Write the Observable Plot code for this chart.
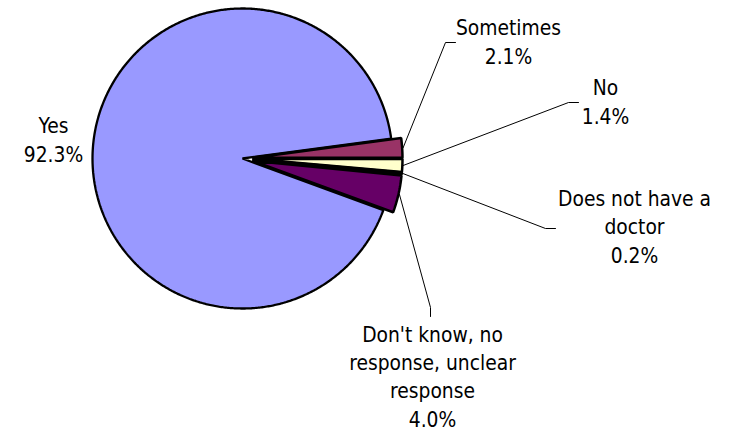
<!DOCTYPE html>
<html><head><meta charset="utf-8">
<script src="https://cdn.jsdelivr.net/npm/d3@7"></script>
<script src="https://cdn.jsdelivr.net/npm/@observablehq/plot@0.6"></script>
<style>html,body{margin:0;padding:0;background:#fff;}</style>
</head><body><div id="chart"></div>
<script>
// ---- data ----
const categories = ["Yes", "Sometimes", "No", "Does not have a doctor", "Don't know, no response, unclear response"];
const values = [92.3, 2.1, 1.4, 0.2, 4.0];
const labelTexts = ["Yes", "Sometimes", "No", "Does not have a\ndoctor", "Don't know, no\nresponse, unclear\nresponse"];
const colors = ["#9999FF", "#993366", "#FFFFCC", "#CCFFFF", "#660066"];

// ---- layout ----
const W = 732, H = 432;
const cx = 242, cy = 158, R = 150, explode = [0, 10, 10, 10, 10];
const startAngle = 110.1; // degrees clockwise from 12 o'clock
const labelPos = [
  {x: 53, y: 161, elbow: null},
  {x: 508, y: 63, elbow: [445, 42], end: [455, 42]},
  {x: 605, y: 123, elbow: [568, 102], end: [578, 102]},
  {x: 634, y: 262, elbow: [545, 228], end: [555, 228]},
  {x: 432, y: 426, elbow: [430, 307], end: [430, 316]}
];

const total = d3.sum(values);
const rad = a => a * Math.PI / 180;
const slices = [];
let acc = startAngle;
values.forEach((v, i) => {
  const a0 = acc, a1 = acc + v / total * 360;
  acc = a1;
  const mid = (a0 + a1) / 2;
  const ox = explode[i] * Math.sin(rad(mid)), oy = -explode[i] * Math.cos(rad(mid));
  slices.push({i, name: categories[i], a0, a1, mid, ox, oy});
});

const piePts = [];
slices.forEach(s => {
  const c = [cx + s.ox, cy + s.oy];
  piePts.push({slice: s.name, x: c[0], y: c[1]});
  const n = Math.max(2, Math.ceil((s.a1 - s.a0) / 0.5));
  for (let k = 0; k <= n; k++) {
    const a = s.a0 + (s.a1 - s.a0) * k / n;
    piePts.push({slice: s.name, x: c[0] + R * Math.sin(rad(a)), y: c[1] - R * Math.cos(rad(a))});
  }
});

const leaderPts = [];
slices.forEach((s, i) => {
  const L = labelPos[i];
  if (!L.elbow) return;
  const r = R + 1;
  leaderPts.push({id: i, x: cx + s.ox + r * Math.sin(rad(s.mid)), y: cy + s.oy - r * Math.cos(rad(s.mid))});
  leaderPts.push({id: i, x: L.elbow[0], y: L.elbow[1]});
  leaderPts.push({id: i, x: L.end[0], y: L.end[1]});
});

const labels = slices.map((s, i) => ({
  text: labelTexts[i] + "\n" + values[i].toFixed(1) + "%",
  x: labelPos[i].x, y: labelPos[i].y
}));

const yesPts = piePts.filter(d => d.slice === categories[0]);
const otherPts = piePts.filter(d => d.slice !== categories[0]);

const chart = Plot.plot({
  width: W, height: H,
  margin: 0,
  x: {domain: [0, W], range: [0, W], axis: null},
  y: {domain: [0, H], range: [0, H], axis: null},
  color: {domain: categories, range: colors},
  style: {fontFamily: "'DejaVu Sans Condensed', 'DejaVu Sans', sans-serif", fontStretch: "condensed", background: "#fff"},
  marks: [
    Plot.line(yesPts, {x: "x", y: "y", z: "slice", fill: "slice", stroke: "black", strokeWidth: 2.3, curve: "linear-closed", strokeLinejoin: "miter"}),
    Plot.line(otherPts, {x: "x", y: "y", z: "slice", fill: "slice", stroke: "black", strokeWidth: 2.5, curve: "linear-closed", strokeLinejoin: "miter"}),
    Plot.line(leaderPts, {x: "x", y: "y", z: "id", stroke: "black", strokeWidth: 1}),
    Plot.text(labels, {x: "x", y: "y", text: "text", lineAnchor: "bottom", lineHeight: 1.36, fontSize: 20.8, fill: "#000", textAnchor: "middle"})
  ]
});
document.getElementById("chart").appendChild(chart);
</script>
</body></html>
